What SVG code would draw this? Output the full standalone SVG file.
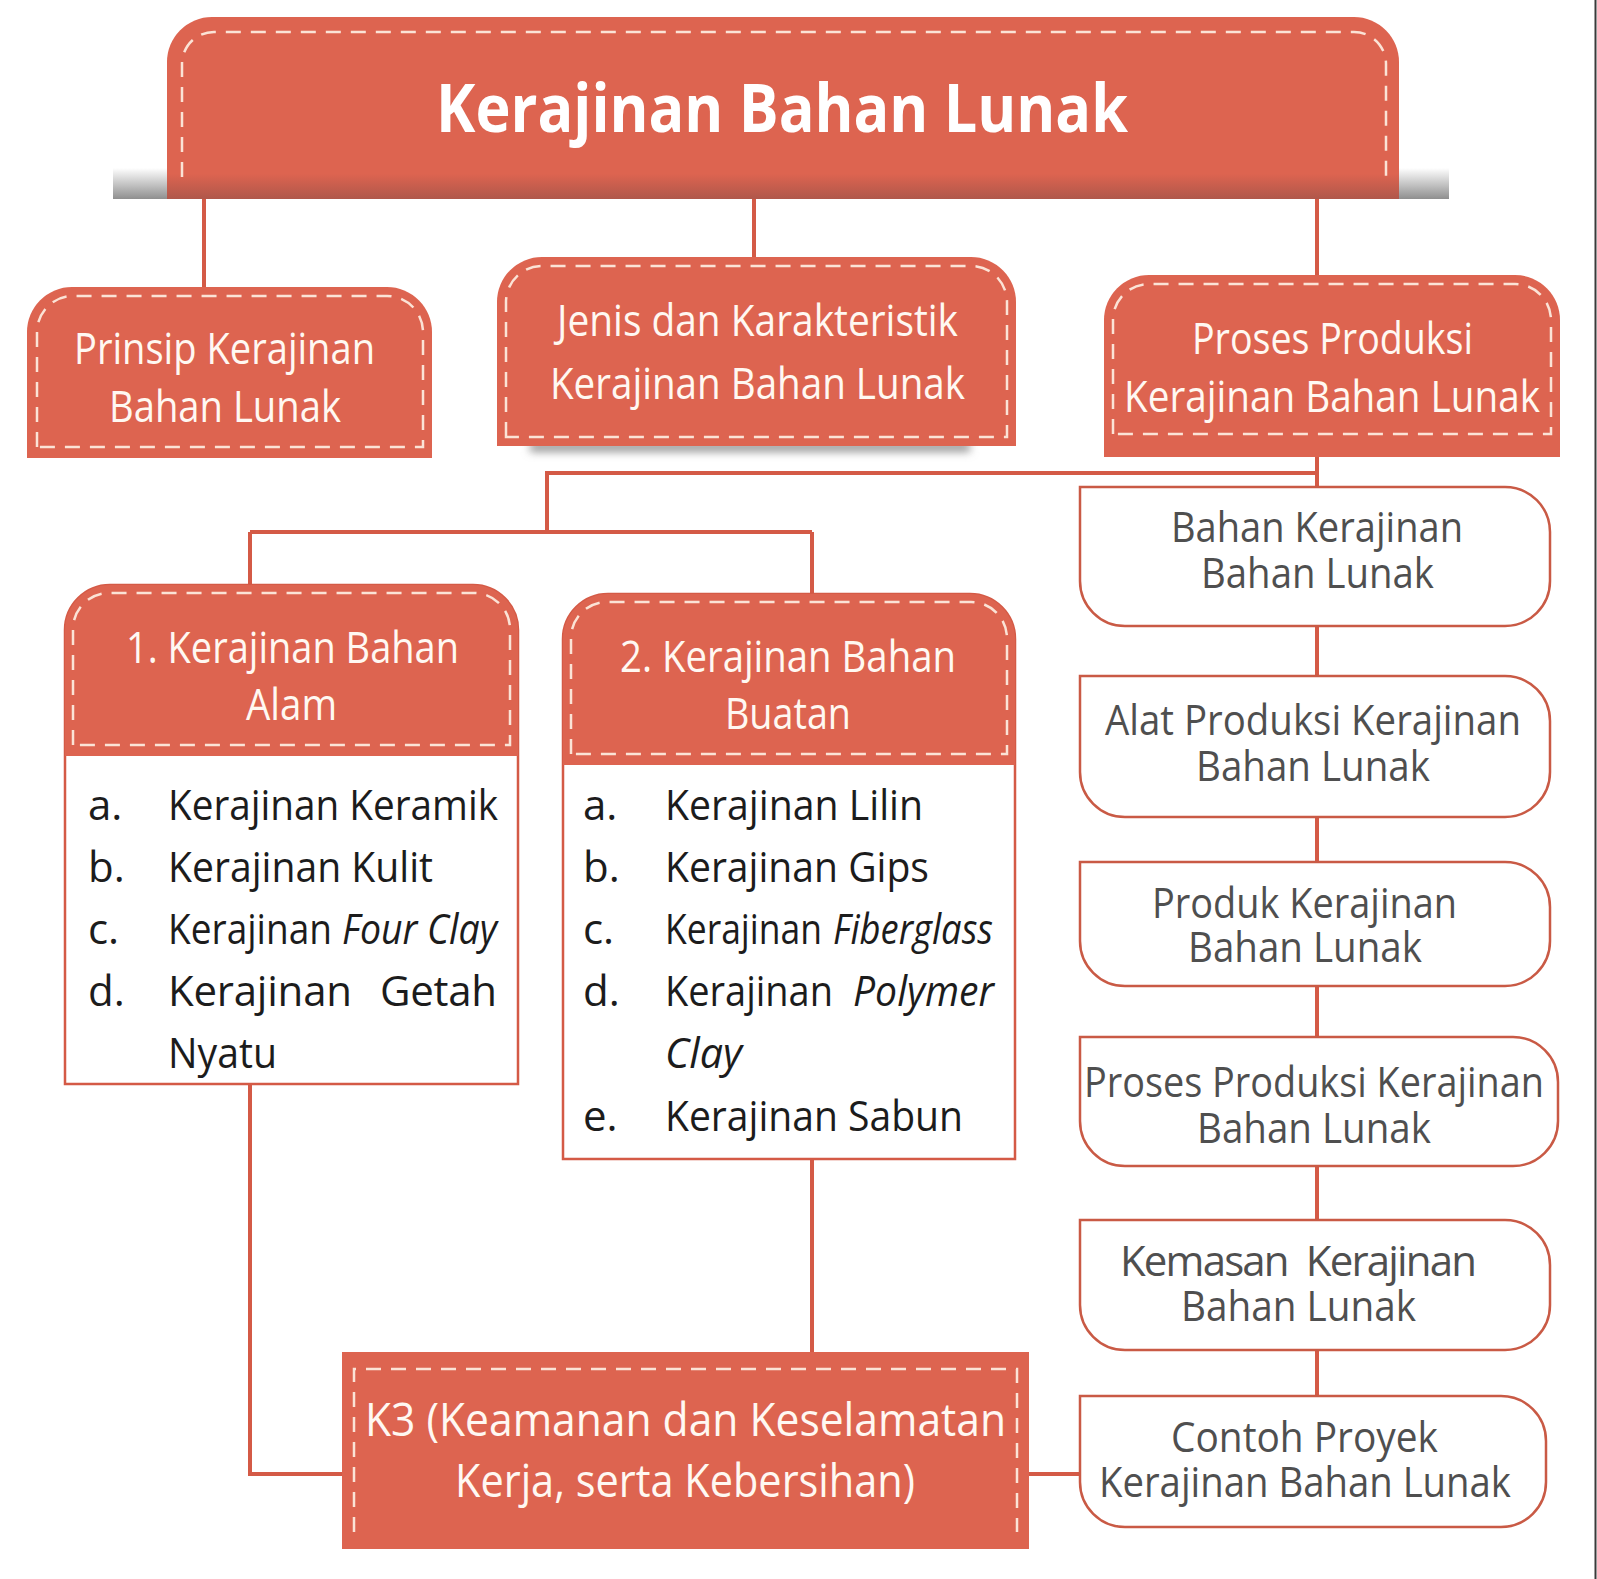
<svg xmlns="http://www.w3.org/2000/svg" width="1597" height="1579" viewBox="0 0 1597 1579">
<style>
.red{fill:#dd6450}
.dash{fill:none;stroke:#fbe3d6;stroke-width:2.5;stroke-dasharray:15 10}
.conn{fill:none;stroke:#d45a46;stroke-width:4}
.wbox{fill:#fff;stroke:#c95a45;stroke-width:2.5}
.body{fill:#fff;stroke:#d45a46;stroke-width:2.5}
.ht{font-family:"Open Sans","Noto Sans",sans-serif;font-size:44px;fill:#fff8f2}
.k3{font-family:"Open Sans","Noto Sans",sans-serif;font-size:46px;fill:#fff8f2}
.tt{font-family:"Open Sans","Noto Sans",sans-serif;font-size:66px;font-weight:bold;fill:#fff}
.li{font-family:"Open Sans","Noto Sans",sans-serif;font-size:42px;fill:#1c1c1c}
.it{font-style:italic}
.rt{font-family:"Open Sans","Noto Sans",sans-serif;font-size:42px;fill:#4f4f4f}
</style>
<defs>
<linearGradient id="strip" x1="0" y1="0" x2="0" y2="1">
<stop offset="0" stop-color="#ffffff"/>
<stop offset="1" stop-color="#8f8f8f"/>
</linearGradient>
<linearGradient id="dark" x1="0" y1="0" x2="0" y2="1">
<stop offset="0" stop-color="#5a4040" stop-opacity="0"/>
<stop offset="1" stop-color="#5a4040" stop-opacity="0.35"/>
</linearGradient>
<filter id="blur" x="-10%" y="-100%" width="120%" height="300%">
<feGaussianBlur stdDeviation="4"/>
</filter>
</defs>
<rect width="1597" height="1579" fill="#fff"/>
<line x1="1595.5" y1="0" x2="1595.5" y2="1579" stroke="#3a3a3a" stroke-width="2"/>

<g id="connectors">
<path class="conn" d="M204,199 V287 M754,199 V257 M1317,199 V275"/>
<path class="conn" d="M1317,457 V1396"/>
<path class="conn" d="M1317,473 H547 V532 M250,532 H812 M250,532 V585 M812,532 V594"/>
<path class="conn" d="M250,1084 V1474 H342 M812,1159 V1352 M1029,1474 H1080"/>
</g>

<g id="title">
<rect x="113" y="168" width="1336" height="31" fill="url(#strip)"/>
<path class="red" d="M167,199 V62 A45,45 0 0 1 212,17 H1354 A45,45 0 0 1 1399,62 V199 Z"/>
<rect x="167" y="174" width="1232" height="25" fill="url(#dark)"/>
<path class="dash" d="M182,177 V64 A32,32 0 0 1 214,32 H1354 A32,32 0 0 1 1386,64 V177"/>
<text class="tt" x="436" y="132" textLength="692" lengthAdjust="spacingAndGlyphs">Kerajinan Bahan Lunak</text>
</g>

<g id="prinsip">
<path class="red" d="M27,458 V332 A45,45 0 0 1 72,287 H387 A45,45 0 0 1 432,332 V458 Z"/>
<path class="dash" d="M37,447 V332 A36,36 0 0 1 73,296 H387 A36,36 0 0 1 423,332 V447 Z"/>
<text class="ht" x="74" y="364" textLength="301" lengthAdjust="spacingAndGlyphs">Prinsip Kerajinan</text>
<text class="ht" x="109" y="422" textLength="232" lengthAdjust="spacingAndGlyphs">Bahan Lunak</text>
</g>

<g id="jenis">
<rect x="530" y="442" width="440" height="10" fill="#9a9a9a" filter="url(#blur)"/>
<path class="red" d="M497,446 V302 A45,45 0 0 1 542,257 H971 A45,45 0 0 1 1016,302 V446 Z"/>
<path class="dash" d="M506,437 V302 A36,36 0 0 1 542,266 H971 A36,36 0 0 1 1007,302 V437 Z"/>
<text class="ht" x="557" y="336" textLength="401" lengthAdjust="spacingAndGlyphs">Jenis dan Karakteristik</text>
<text class="ht" x="550" y="399" textLength="415" lengthAdjust="spacingAndGlyphs">Kerajinan Bahan Lunak</text>
</g>

<g id="proses">
<path class="red" d="M1104,457 V320 A45,45 0 0 1 1149,275 H1515 A45,45 0 0 1 1560,320 V457 Z"/>
<path class="dash" d="M1113,434 V320 A36,36 0 0 1 1149,284 H1515 A36,36 0 0 1 1551,320 V434 Z"/>
<text class="ht" x="1192" y="354" textLength="281" lengthAdjust="spacingAndGlyphs">Proses Produksi</text>
<text class="ht" x="1124" y="412" textLength="416" lengthAdjust="spacingAndGlyphs">Kerajinan Bahan Lunak</text>
</g>

<g id="alam">
<path class="body" d="M65,1084 V630 A45,45 0 0 1 110,585 H473 A45,45 0 0 1 518,630 V1084 Z"/>
<path class="red" d="M65,756 V630 A45,45 0 0 1 110,585 H473 A45,45 0 0 1 518,630 V756 Z"/>
<path class="dash" d="M73,745 V629 A36,36 0 0 1 109,593 H474 A36,36 0 0 1 510,629 V745 Z"/>
<text class="ht" x="126" y="663" textLength="333" lengthAdjust="spacingAndGlyphs">1. Kerajinan Bahan</text>
<text class="ht" x="246" y="720" textLength="91" lengthAdjust="spacingAndGlyphs">Alam</text>
<text class="li" x="88" y="820">a.</text>
<text class="li" x="168" y="820" textLength="330" lengthAdjust="spacingAndGlyphs">Kerajinan Keramik</text>
<text class="li" x="88" y="882">b.</text>
<text class="li" x="168" y="882" textLength="265" lengthAdjust="spacingAndGlyphs">Kerajinan Kulit</text>
<text class="li" x="88" y="944">c.</text>
<text class="li" x="168" y="944" textLength="164" lengthAdjust="spacingAndGlyphs">Kerajinan</text>
<text class="li it" x="342" y="944" textLength="155" lengthAdjust="spacingAndGlyphs">Four Clay</text>
<text class="li" x="88" y="1006">d.</text>
<text class="li" x="168" y="1006" textLength="184" lengthAdjust="spacing">Kerajinan</text>
<text class="li" x="380" y="1006" textLength="117" lengthAdjust="spacing">Getah</text>
<text class="li" x="168" y="1068" textLength="109" lengthAdjust="spacingAndGlyphs">Nyatu</text>
</g>

<g id="buatan">
<path class="body" d="M563,1159 V639 A45,45 0 0 1 608,594 H970 A45,45 0 0 1 1015,639 V1159 Z"/>
<path class="red" d="M563,765 V639 A45,45 0 0 1 608,594 H970 A45,45 0 0 1 1015,639 V765 Z"/>
<path class="dash" d="M571,754 V638 A36,36 0 0 1 607,602 H971 A36,36 0 0 1 1007,638 V754 Z"/>
<text class="ht" x="620" y="672" textLength="336" lengthAdjust="spacingAndGlyphs">2. Kerajinan Bahan</text>
<text class="ht" x="725" y="729" textLength="126" lengthAdjust="spacingAndGlyphs">Buatan</text>
<text class="li" x="583" y="820">a.</text>
<text class="li" x="665" y="820" textLength="258" lengthAdjust="spacingAndGlyphs">Kerajinan Lilin</text>
<text class="li" x="583" y="882">b.</text>
<text class="li" x="665" y="882" textLength="264" lengthAdjust="spacingAndGlyphs">Kerajinan Gips</text>
<text class="li" x="583" y="944">c.</text>
<text class="li" x="665" y="944" textLength="157" lengthAdjust="spacingAndGlyphs">Kerajinan</text>
<text class="li it" x="833" y="944" textLength="160" lengthAdjust="spacingAndGlyphs">Fiberglass</text>
<text class="li" x="583" y="1006">d.</text>
<text class="li" x="665" y="1006" textLength="168" lengthAdjust="spacingAndGlyphs">Kerajinan</text>
<text class="li it" x="853" y="1006" textLength="141" lengthAdjust="spacingAndGlyphs">Polymer</text>
<text class="li it" x="665" y="1068" textLength="77" lengthAdjust="spacingAndGlyphs">Clay</text>
<text class="li" x="583" y="1131">e.</text>
<text class="li" x="665" y="1131" textLength="298" lengthAdjust="spacingAndGlyphs">Kerajinan Sabun</text>
</g>

<g id="k3">
<rect class="red" x="342" y="1352" width="687" height="197"/>
<path class="dash" d="M354,1532 V1369 H1017 V1532"/>
<text class="k3" x="365" y="1436" textLength="641" lengthAdjust="spacingAndGlyphs">K3 (Keamanan dan Keselamatan</text>
<text class="k3" x="455" y="1497" textLength="460" lengthAdjust="spacingAndGlyphs">Kerja, serta Kebersihan)</text>
</g>

<g id="bahan">
<path class="wbox" d="M1080,487 H1505 A45,45 0 0 1 1550,532 V581 A45,45 0 0 1 1505,626 H1125 A45,45 0 0 1 1080,581 Z"/>
<text class="rt" x="1171" y="542" textLength="292" lengthAdjust="spacingAndGlyphs">Bahan Kerajinan</text>
<text class="rt" x="1201" y="588" textLength="233" lengthAdjust="spacingAndGlyphs">Bahan Lunak</text>
</g>

<g id="alat">
<path class="wbox" d="M1080,676 H1505 A45,45 0 0 1 1550,721 V772 A45,45 0 0 1 1505,817 H1125 A45,45 0 0 1 1080,772 Z"/>
<text class="rt" x="1105" y="735" textLength="416" lengthAdjust="spacingAndGlyphs">Alat Produksi Kerajinan</text>
<text class="rt" x="1196" y="781" textLength="234" lengthAdjust="spacingAndGlyphs">Bahan Lunak</text>
</g>

<g id="produk">
<path class="wbox" d="M1080,862 H1505 A45,45 0 0 1 1550,907 V941 A45,45 0 0 1 1505,986 H1125 A45,45 0 0 1 1080,941 Z"/>
<text class="rt" x="1152" y="918" textLength="305" lengthAdjust="spacingAndGlyphs">Produk Kerajinan</text>
<text class="rt" x="1188" y="962" textLength="234" lengthAdjust="spacingAndGlyphs">Bahan Lunak</text>
</g>

<g id="proses-produksi">
<path class="wbox" d="M1080,1037 H1513 A45,45 0 0 1 1558,1082 V1121 A45,45 0 0 1 1513,1166 H1125 A45,45 0 0 1 1080,1121 Z"/>
<text class="rt" x="1084" y="1097" textLength="460" lengthAdjust="spacingAndGlyphs">Proses Produksi Kerajinan</text>
<text class="rt" x="1197" y="1143" textLength="234" lengthAdjust="spacingAndGlyphs">Bahan Lunak</text>
</g>

<g id="kemasan">
<path class="wbox" d="M1080,1220 H1505 A45,45 0 0 1 1550,1265 V1305 A45,45 0 0 1 1505,1350 H1125 A45,45 0 0 1 1080,1305 Z"/>
<text class="rt" x="1120" y="1276" textLength="357" lengthAdjust="spacing" style="white-space:pre">Kemasan  Kerajinan</text>
<text class="rt" x="1181" y="1321" textLength="235" lengthAdjust="spacingAndGlyphs">Bahan Lunak</text>
</g>

<g id="contoh">
<path class="wbox" d="M1080,1396 H1501 A45,45 0 0 1 1546,1441 V1482 A45,45 0 0 1 1501,1527 H1125 A45,45 0 0 1 1080,1482 Z"/>
<text class="rt" x="1171" y="1452" textLength="267" lengthAdjust="spacingAndGlyphs">Contoh Proyek</text>
<text class="rt" x="1099" y="1497" textLength="412" lengthAdjust="spacingAndGlyphs">Kerajinan Bahan Lunak</text>
</g>
</svg>
